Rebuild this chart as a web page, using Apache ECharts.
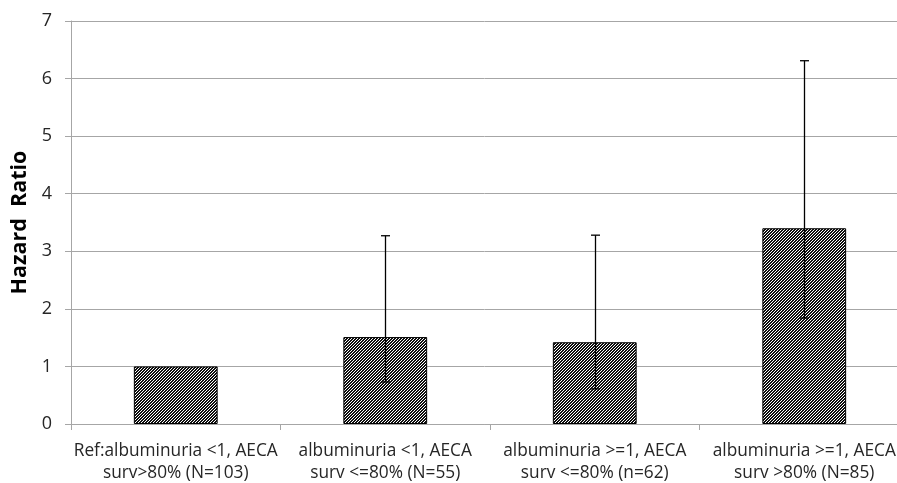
<!DOCTYPE html>
<html><head><meta charset="utf-8">
<script src="https://cdn.jsdelivr.net/npm/echarts@6/dist/echarts.min.js"></script>
<style>html,body{margin:0;padding:0;background:#fff;overflow:hidden}#c{width:897px;height:483px}</style>
</head><body><div id="c"></div>
<script>
var categories = ['Ref:albuminuria <1, AECA\nsurv>80% (N=103)', 'albuminuria <1, AECA\nsurv <=80% (N=55)', 'albuminuria >=1, AECA\nsurv <=80% (n=62)', 'albuminuria >=1, AECA\nsurv >80% (N=85)'];
var hazardRatio = [1.0, 1.51, 1.42, 3.40];
var ciLower = [null, 0.73, 0.61, 1.84];
var ciUpper = [null, 3.27, 3.28, 6.31];

function hatch(){
  var n = 12, cv = document.createElement('canvas');
  cv.width = n; cv.height = n;
  var ctx = cv.getContext('2d');
  var img = ctx.createImageData(n, n);
  for (var y = 0; y < n; y++) for (var x = 0; x < n; x++) {
    var i = (y * n + x) * 4;
    var v = ((x + y) % 3) < 2 ? 15 : 255;
    img.data[i] = v; img.data[i+1] = v; img.data[i+2] = v; img.data[i+3] = 255;
  }
  ctx.putImageData(img, 0, 0);
  return cv;
}

var errData = [];
for (var i = 0; i < categories.length; i++) {
  if (ciLower[i] != null) errData.push([i, ciLower[i], ciUpper[i]]);
}

var chart = echarts.init(document.getElementById('c'));
chart.setOption({
  animation: false,
  grid: {left: 71, top: 21, bottom: 59, width: 838, containLabel: false, outerBoundsMode: 'none'},
  xAxis: {
    type: 'category', data: categories,
    axisLine: {lineStyle: {color: '#a6a6a6', width: 1}},
    axisTick: {show: true, length: 6, lineStyle: {color: '#a6a6a6'}},
    axisLabel: {color: '#262626', fontFamily: 'Open Sans', fontSize: 17.3, lineHeight: 22, margin: 16, interval: 0}
  },
  yAxis: {
    type: 'value', min: 0, max: 7, interval: 1,
    name: 'Hazard  Ratio', nameLocation: 'middle', nameGap: 40,
    nameTextStyle: {fontFamily: 'Open Sans', fontWeight: 'bold', fontSize: 21.5, color: '#000'},
    axisLine: {show: true, lineStyle: {color: '#a6a6a6'}},
    axisTick: {show: true, length: 6, lineStyle: {color: '#a6a6a6'}},
    axisLabel: {color: '#262626', fontFamily: 'Open Sans', fontSize: 18, margin: 19},
    splitLine: {lineStyle: {color: '#a6a6a6', width: 1}}
  },
  series: [{
    type: 'bar', data: hazardRatio, barWidth: '40%',
    itemStyle: {color: {image: hatch(), repeat: 'repeat'}, borderColor: '#000', borderWidth: 1}
  }, {
    type: 'custom', data: errData, z: 10,
    renderItem: function(params, api){
      var x = api.value(0), lo = api.coord([x, api.value(1)]), hi = api.coord([x, api.value(2)]);
      var cx = Math.round(lo[0]) + 0.5, w = 4.5;
      var st = {stroke: '#000', lineWidth: 1.3};
      return {type: 'group', children: [
        {type: 'line', shape: {x1: cx, y1: lo[1], x2: cx, y2: hi[1]}, style: st},
        {type: 'line', shape: {x1: cx - w, y1: hi[1], x2: cx + w, y2: hi[1]}, style: st},
        {type: 'line', shape: {x1: cx - w, y1: lo[1], x2: cx + w, y2: lo[1]}, style: st}
      ]};
    }
  }]
});
</script></body></html>
